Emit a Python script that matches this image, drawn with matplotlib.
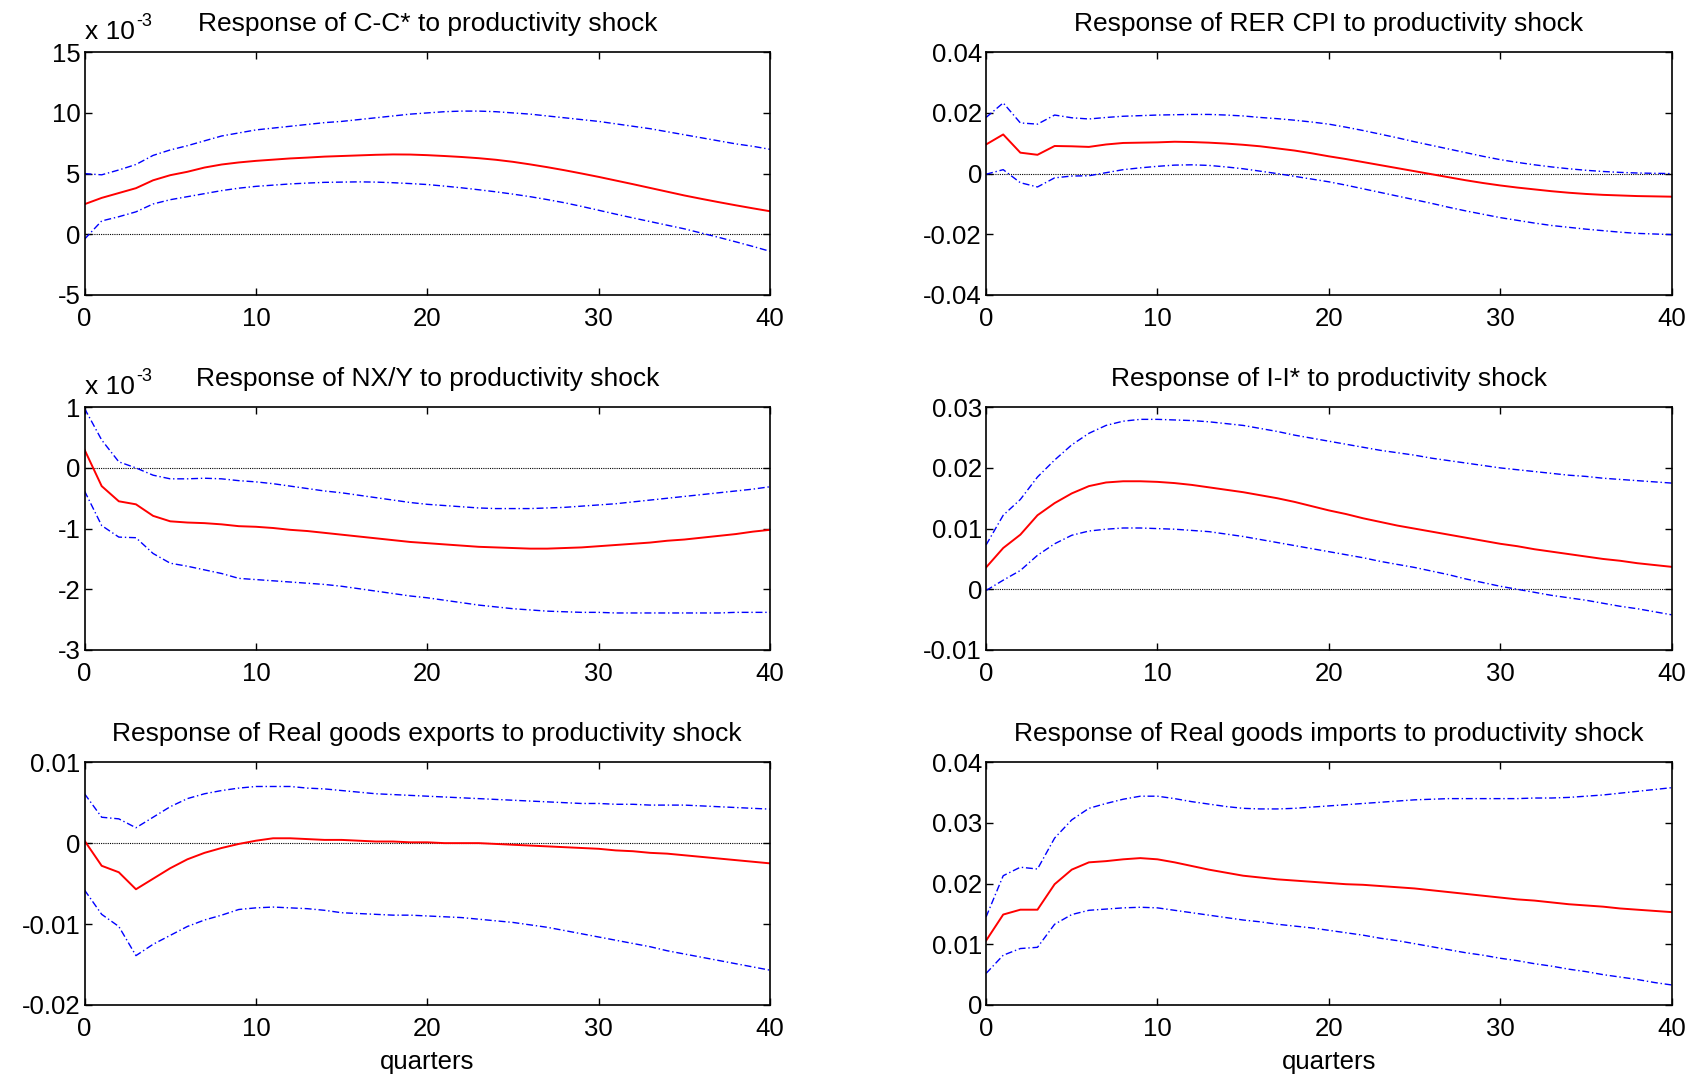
import numpy as np
import matplotlib; matplotlib.use('Agg'); import matplotlib.pyplot as plt
from matplotlib.ticker import FuncFormatter

plt.rcParams['font.family'] = ['Liberation Sans', 'DejaVu Sans']
plt.rcParams['axes.unicode_minus'] = False

quarters = np.arange(41)

# C-C* (x 1e-3)
cc_mid = [2.48, 3.0, 3.4, 3.8, 4.45, 4.87, 5.15, 5.5, 5.75, 5.92, 6.05, 6.15, 6.25, 6.32, 6.4, 6.45, 6.5, 6.55, 6.58, 6.57,
          6.52, 6.45, 6.37, 6.27, 6.14, 5.97, 5.76, 5.53, 5.28, 5.01, 4.73, 4.43, 4.13, 3.82, 3.51, 3.2, 2.92, 2.65, 2.39, 2.14, 1.9]
cc_hi = [5.0, 4.9, 5.3, 5.75, 6.5, 6.95, 7.3, 7.7, 8.1, 8.35, 8.6, 8.75, 8.9, 9.05, 9.2, 9.3, 9.45, 9.6, 9.75, 9.9,
         10.0, 10.1, 10.15, 10.15, 10.1, 10.0, 9.9, 9.75, 9.6, 9.45, 9.3, 9.1, 8.9, 8.7, 8.45, 8.2, 7.95, 7.7, 7.45, 7.25, 7.0]
cc_lo = [-0.4, 1.1, 1.45, 1.85, 2.5, 2.85, 3.1, 3.35, 3.6, 3.8, 3.95, 4.05, 4.15, 4.22, 4.28, 4.3, 4.32, 4.3, 4.25, 4.18,
         4.1, 3.97, 3.83, 3.67, 3.5, 3.31, 3.1, 2.86, 2.6, 2.3, 1.98, 1.66, 1.35, 1.05, 0.75, 0.45, 0.1, -0.25, -0.62, -1.0, -1.4]

# RER CPI
rer_mid = [0.0096, 0.0129, 0.0069, 0.0062, 0.0091, 0.009, 0.0088, 0.0096, 0.0101, 0.0102, 0.0103, 0.0105, 0.0104, 0.0102,
           0.0099, 0.0095, 0.009, 0.0083, 0.0076, 0.0067, 0.0057, 0.0048, 0.0038, 0.0028, 0.0018, 0.0008, -0.0002, -0.0012,
           -0.0022, -0.0031, -0.0039, -0.0046, -0.0052, -0.0058, -0.0063, -0.0067, -0.007, -0.0072, -0.0074, -0.0075, -0.0076]
rer_hi = [0.0185, 0.0233, 0.0167, 0.0163, 0.0193, 0.0184, 0.018, 0.0185, 0.0189, 0.0191, 0.0193, 0.0194, 0.0195, 0.0195,
          0.0193, 0.019, 0.0185, 0.0181, 0.0176, 0.017, 0.0163, 0.0153, 0.0142, 0.013, 0.0118, 0.0105, 0.0093, 0.0081,
          0.0069, 0.0057, 0.0046, 0.0037, 0.0029, 0.0022, 0.0016, 0.0011, 0.0007, 0.0004, 0.0002, 0.0001, 0.0]
rer_lo = [-0.0002, 0.0013, -0.003, -0.0044, -0.0014, -0.0008, -0.0007, 0.0003, 0.0013, 0.0019, 0.0024, 0.0028, 0.0029,
          0.0027, 0.0022, 0.0016, 0.0008, 0.0, -0.0009, -0.0018, -0.0027, -0.0038, -0.005, -0.0062, -0.0074, -0.0086,
          -0.0098, -0.0111, -0.0123, -0.0134, -0.0145, -0.0154, -0.0163, -0.0171, -0.0177, -0.0183, -0.0188, -0.0193,
          -0.0197, -0.0199, -0.0201]

# NX/Y (x 1e-3)
nx_mid = [0.3, -0.3, -0.55, -0.6, -0.79, -0.88, -0.9, -0.91, -0.93, -0.96, -0.97, -0.99, -1.02, -1.04, -1.07, -1.1, -1.13,
          -1.16, -1.19, -1.22, -1.24, -1.26, -1.28, -1.3, -1.31, -1.32, -1.33, -1.33, -1.32, -1.31, -1.29, -1.27, -1.25,
          -1.23, -1.2, -1.18, -1.15, -1.12, -1.09, -1.05, -1.02]
nx_hi = [0.98, 0.46, 0.1, 0.0, -0.12, -0.18, -0.18, -0.17, -0.18, -0.21, -0.23, -0.26, -0.3, -0.34, -0.38, -0.41, -0.45,
         -0.49, -0.53, -0.57, -0.6, -0.62, -0.64, -0.66, -0.67, -0.67, -0.67, -0.66, -0.65, -0.63, -0.61, -0.59, -0.56,
         -0.53, -0.5, -0.47, -0.44, -0.41, -0.38, -0.35, -0.31]
nx_lo = [-0.38, -0.95, -1.14, -1.15, -1.41, -1.57, -1.62, -1.68, -1.74, -1.82, -1.84, -1.86, -1.88, -1.9, -1.92, -1.95,
         -1.99, -2.03, -2.07, -2.11, -2.14, -2.18, -2.22, -2.26, -2.29, -2.32, -2.34, -2.36, -2.37, -2.38, -2.38, -2.39,
         -2.39, -2.39, -2.39, -2.39, -2.39, -2.39, -2.38, -2.38, -2.38]

# I-I*
inv_mid = [0.0036, 0.0068, 0.009, 0.0122, 0.0142, 0.0158, 0.017, 0.0176, 0.0178, 0.0178, 0.0177, 0.0175, 0.0172, 0.0168,
           0.0164, 0.016, 0.0155, 0.015, 0.0144, 0.0137, 0.013, 0.0124, 0.0117, 0.0111, 0.0105, 0.01, 0.0095, 0.009,
           0.0085, 0.008, 0.0075, 0.0071, 0.0066, 0.0062, 0.0058, 0.0054, 0.005, 0.0047, 0.0043, 0.004, 0.0037]
inv_hi = [0.0073, 0.0122, 0.0148, 0.0185, 0.0213, 0.0238, 0.0257, 0.027, 0.0277, 0.028, 0.028, 0.0279, 0.0278, 0.0276,
          0.0273, 0.027, 0.0265, 0.026, 0.0254, 0.0249, 0.0244, 0.0239, 0.0234, 0.0229, 0.0225, 0.0221, 0.0216, 0.0212,
          0.0208, 0.0204, 0.02, 0.0197, 0.0194, 0.0191, 0.0188, 0.0186, 0.0183, 0.0181, 0.0179, 0.0177, 0.0175]
inv_lo = [-0.0002, 0.0015, 0.0031, 0.0056, 0.0075, 0.0089, 0.0096, 0.0099, 0.0101, 0.0101, 0.01, 0.0099, 0.0097, 0.0095,
          0.0091, 0.0087, 0.0082, 0.0077, 0.0072, 0.0067, 0.0062, 0.0057, 0.0052, 0.0046, 0.0041, 0.0036, 0.003, 0.0024,
          0.0017, 0.0011, 0.0005, 0.0, -0.0005, -0.001, -0.0014, -0.0018, -0.0023, -0.0028, -0.0032, -0.0037, -0.0042]

# real goods exports
ex_mid = [0.0003, -0.0028, -0.0036, -0.0057, -0.0044, -0.0031, -0.002, -0.0012, -0.0006, -0.0001, 0.0003, 0.0006, 0.0006,
          0.0005, 0.0004, 0.0004, 0.0003, 0.0002, 0.0002, 0.0001, 0.0001, 0.0, 0.0, 0.0, -0.0001, -0.0002, -0.0003, -0.0004,
          -0.0005, -0.0006, -0.0007, -0.0009, -0.001, -0.0012, -0.0013, -0.0015, -0.0017, -0.0019, -0.0021, -0.0023, -0.0025]
ex_hi = [0.0061, 0.0032, 0.003, 0.0019, 0.0032, 0.0045, 0.0055, 0.0061, 0.0065, 0.0068, 0.007, 0.007, 0.007, 0.0068,
         0.0067, 0.0065, 0.0063, 0.0061, 0.006, 0.0059, 0.0058, 0.0057, 0.0056, 0.0055, 0.0054, 0.0053, 0.0052, 0.0051,
         0.005, 0.0049, 0.0049, 0.0048, 0.0048, 0.0047, 0.0047, 0.0047, 0.0046, 0.0045, 0.0044, 0.0043, 0.0042]
ex_lo = [-0.0058, -0.0088, -0.0103, -0.0139, -0.0125, -0.0114, -0.0103, -0.0095, -0.0089, -0.0082, -0.008, -0.0079, -0.008,
         -0.0081, -0.0083, -0.0086, -0.0087, -0.0088, -0.0089, -0.0089, -0.009, -0.0091, -0.0092, -0.0094, -0.0096, -0.0098,
         -0.0101, -0.0104, -0.0108, -0.0112, -0.0116, -0.012, -0.0124, -0.0128, -0.0133, -0.0137, -0.0141, -0.0145,
         -0.0149, -0.0153, -0.0157]

# real goods imports
im_mid = [0.0106, 0.0149, 0.0157, 0.0157, 0.0199, 0.0223, 0.0235, 0.0237, 0.024, 0.0242, 0.024, 0.0235, 0.0229, 0.0223,
          0.0218, 0.0213, 0.021, 0.0207, 0.0205, 0.0203, 0.0201, 0.0199, 0.0198, 0.0196, 0.0194, 0.0192, 0.0189, 0.0186,
          0.0183, 0.018, 0.0177, 0.0174, 0.0172, 0.0169, 0.0166, 0.0164, 0.0162, 0.0159, 0.0157, 0.0155, 0.0153]
im_hi = [0.0145, 0.0213, 0.0227, 0.0224, 0.0275, 0.0305, 0.0324, 0.0332, 0.0339, 0.0344, 0.0344, 0.034, 0.0335, 0.0331,
         0.0327, 0.0324, 0.0323, 0.0323, 0.0324, 0.0326, 0.0328, 0.033, 0.0332, 0.0334, 0.0336, 0.0338, 0.0339, 0.034,
         0.034, 0.034, 0.034, 0.034, 0.0341, 0.0341, 0.0342, 0.0344, 0.0346, 0.0349, 0.0352, 0.0355, 0.0358]
im_lo = [0.0052, 0.0082, 0.0093, 0.0095, 0.0133, 0.0149, 0.0156, 0.0158, 0.016, 0.0161, 0.016, 0.0156, 0.0152, 0.0148,
         0.0144, 0.014, 0.0137, 0.0133, 0.013, 0.0127, 0.0123, 0.0119, 0.0115, 0.011, 0.0106, 0.0101, 0.0096, 0.0091,
         0.0086, 0.0082, 0.0077, 0.0073, 0.0068, 0.0064, 0.0059, 0.0055, 0.005, 0.0046, 0.0042, 0.0037, 0.0033]

titles = ["Response of C-C* to productivity shock", "Response of RER CPI to productivity shock",
          "Response of NX/Y to productivity shock", "Response of I-I* to productivity shock",
          "Response of Real goods exports to productivity shock", "Response of Real goods imports to productivity shock"]
series = [(cc_mid, cc_hi, cc_lo), (rer_mid, rer_hi, rer_lo), (nx_mid, nx_hi, nx_lo),
          (inv_mid, inv_hi, inv_lo), (ex_mid, ex_hi, ex_lo), (im_mid, im_hi, im_lo)]
yticks = [[-5, 0, 5, 10, 15], [-0.04, -0.02, 0, 0.02, 0.04], [-3, -2, -1, 0, 1],
          [-0.01, 0, 0.01, 0.02, 0.03], [-0.02, -0.01, 0, 0.01], [0, 0.01, 0.02, 0.03, 0.04]]
scaled = [True, False, True, False, False, False]

fig = plt.figure(figsize=(17.01, 10.79), dpi=100)
lefts = [0.0497, 0.5797]
bottoms = [0.7266, 0.3976, 0.0686]
W, H = 0.403, 0.225
fs_t, fs = 19, 18.5
dash = (0, (5, 2, 1, 2))

renderer = fig.canvas.get_renderer()
for i in range(6):
    r, c = divmod(i, 2)
    ax = fig.add_axes([lefts[c], bottoms[r], W, H])
    mid, hi, lo = series[i]
    ax.axhline(0, color='k', lw=0.8, ls=(0, (1, 1)))
    ax.plot(quarters, hi, color='#0000ff', lw=1.0, ls=dash)
    ax.plot(quarters, lo, color='#0000ff', lw=1.0, ls=dash)
    ax.plot(quarters, mid, color='#ff0000', lw=1.4)
    ax.set_xlim(0, 40)
    ax.set_ylim(yticks[i][0], yticks[i][-1])
    ax.set_xticks([0, 10, 20, 30, 40])
    ax.set_yticks(yticks[i])
    ax.yaxis.set_major_formatter(FuncFormatter(lambda v, p: '%g' % round(v, 6)))
    ax.tick_params(direction='in', top=True, right=True, length=5, width=1, labelsize=fs)
    ax.tick_params(axis='x', pad=9)
    ax.tick_params(axis='y', pad=3)
    for s in ax.spines.values():
        s.set_linewidth(1.2)
    ax.set_title(titles[i], fontsize=fs_t, pad=15)
    if scaled[i]:
        t = ax.annotate('x 10', xy=(0, 1), xycoords='axes fraction', xytext=(0, 9.5),
                        textcoords='offset points', fontsize=19, ha='left', va='baseline')
        w = t.get_window_extent(renderer).width * 72 / fig.dpi
        ax.annotate('-3', xy=(0, 1), xycoords='axes fraction', xytext=(w + 1, 19),
                    textcoords='offset points', fontsize=13, ha='left', va='baseline')
    if r == 2:
        ax.set_xlabel('quarters', fontsize=fs, labelpad=6)

fig.savefig('out.png', dpi=100)
